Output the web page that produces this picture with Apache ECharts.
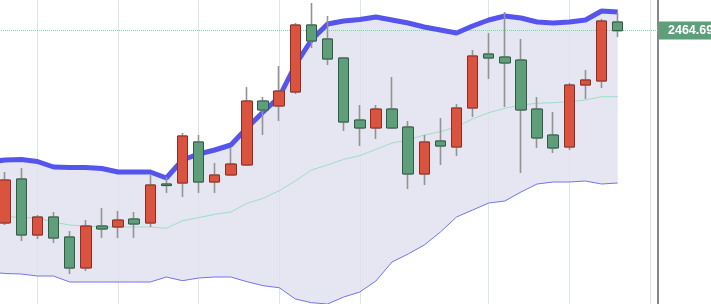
<!DOCTYPE html>
<html><head><meta charset="utf-8">
<script src="https://cdn.jsdelivr.net/npm/echarts@6/dist/echarts.min.js"></script>
<style>html,body{margin:0;padding:0;background:#fff;overflow:hidden}#c{width:711px;height:304px}</style>
</head><body><div id="c"></div>
<script>
// categories (trading sessions)
const categories = ['1','2','3','4','5','6','7','8','9','10','11','12','13','14','15','16','17','18','19','20','21',
  '22','23','24','25','26','27','28','29','30','31','32','33','34','35','36','37','38','39','40','41','42'];
// [open, close, low, high]
const candles = [
  [2392.5,2372.5,2367.5,2397.5],[2368.5,2390,2367.5,2394],[2390.5,2362.5,2359.5,2396],[2362.5,2371.5,2360.5,2372.5],
  [2371.5,2361,2358.5,2374],[2361.5,2346,2343,2364.5],[2346,2367,2344.5,2370],[2367,2365.5,2361,2376],
  [2366.5,2370,2361,2374.5],[2370.5,2368,2361,2374],[2368.5,2387.5,2366.5,2393],[2388,2387.25,2383.5,2391.5],
  [2388.5,2412,2381.5,2413.5],[2409,2389,2383.5,2412.5],[2389,2392.5,2383.5,2398.5],[2392.5,2398,2392.5,2406],
  [2397.5,2429.5,2397,2436.5],[2429.5,2425,2412.5,2431.5],[2427,2434.5,2419.5,2447],[2434,2467.5,2433,2468.5],
  [2467.5,2459.5,2456,2478.5],[2460.5,2450.5,2447.5,2472],[2451,2419,2414.5,2451],[2420,2416,2407,2427.5],
  [2416,2425.5,2410.5,2427.5],[2425.5,2416,2416,2441.5],[2416.5,2393,2385.5,2419.5],[2393,2409,2387.5,2412.5],
  [2409.5,2407,2397.5,2421],[2406.5,2426,2402,2428],[2426,2452,2421.5,2455],[2453,2451,2440.5,2463.5],
  [2451.5,2448.5,2426.5,2474],[2450,2425,2393.5,2460.5],[2425.5,2411,2406,2431.5],[2412.5,2406,2403.5,2424],
  [2406.5,2437.5,2405,2438.5],[2437.5,2440,2430.5,2445],[2439.5,2469.5,2436,2470.5],[2469,2464.69,2461.5,2473.5],
  '-','-'
];
const upperBand = [2399,2400,2400.25,2399.25,2396.5,2396.25,2396.2,2395.75,2394,2394,2394,2391,2400,2403,2405,2407.5,
  2416,2424,2431.5,2447.5,2460,2468,2469.5,2470.25,2471.5,2470,2468.5,2466.5,2465,2463.5,2467,2470,2472,2471,2469,
  2468.5,2469,2470,2474.5,2474,'-','-'];
const middleBand = [2372.5,2371.75,2371.25,2371,2369,2367.5,2367,2366.5,2366.5,2366.5,2366.5,2365.85,2369.65,2371.15,
  2372.85,2374,2378.35,2380.85,2384.65,2389.5,2395,2397.5,2400.35,2402.15,2405.35,2408.5,2410,2412.5,2414.15,2416.65,
  2420.5,2423.65,2425.85,2427.5,2428.35,2428.65,2429.15,2430,2431.65,2431.65,'-','-'];
const lowerBand = [2344,2343.25,2343,2342,2342,2339,2339,2339,2339,2339,2339,2341.5,2339.65,2341,2341.5,2341.5,2339.15,
  2337.15,2336.15,2330.5,2328.65,2328,2331.5,2334,2339.5,2349,2353,2357.5,2364,2371.5,2375,2378.5,2379.5,2384,2388,
  2389,2389,2389.5,2388,2388.5,'-','-'];
const gridLineCats = ['4','9','14','19','24','32','37','42'];
const lastPrice = 2464.69;
const lastPriceLabel = '2464.690';

const bandWidth = upperBand.map((u, i) => (u === '-' || lowerBand[i] === '-') ? '-' : +(u - lowerBand[i]).toFixed(3));
const bodies = candles.map(c => c === '-' ? '-' : [c[0], c[1], Math.min(c[0], c[1]), Math.max(c[0], c[1])]);

const chart = echarts.init(document.getElementById('c'), null, {renderer: 'canvas'});
chart.setOption({
  animation: false,
  backgroundColor: '#ffffff',
  grid: {left: -19, right: 53, top: 0, bottom: 0, outerBoundsMode: 'none'},
  xAxis: {type: 'category', data: categories, boundaryGap: true,
    axisLine: {show: false}, axisTick: {show: false}, axisLabel: {show: false}, splitLine: {show: false}},
  yAxis: {type: 'value', position: 'right', min: 2328, max: 2480,
    axisLine: {show: true, lineStyle: {color: '#5f5f5f', width: 1.5}},
    axisTick: {show: false}, axisLabel: {show: false}, splitLine: {show: false}},
  series: [
    {type: 'line', name: 'base', data: lowerBand, stack: 'bb', symbol: 'none', silent: true, z: 1,
      lineStyle: {opacity: 0}},
    {type: 'line', name: 'fill', data: bandWidth, stack: 'bb', symbol: 'none', silent: true, z: 1,
      lineStyle: {opacity: 0}, areaStyle: {color: '#e6e6f2', opacity: 1}},
    {type: 'line', name: 'vgrid', data: [], silent: true, z: 2,
      markLine: {silent: true, symbol: 'none', z: 2, animation: false,
        label: {show: false},
        lineStyle: {color: '#dde2ec', width: 1, type: 'solid'},
        data: gridLineCats.map(c => ({xAxis: c}))}},
    {type: 'line', name: 'lower', data: lowerBand, symbol: 'none', silent: true, z: 3,
      lineStyle: {color: '#7474e8', width: 1}},
    {type: 'line', name: 'middle', data: middleBand, symbol: 'none', silent: true, z: 3,
      lineStyle: {color: '#9edec6', width: 1}},
    {type: 'line', name: 'upper', data: upperBand, symbol: 'none', silent: true, z: 3,
      lineStyle: {color: '#5555ee', width: 5}},
    {type: 'line', name: 'last', data: [], silent: true, z: 3,
      markLine: {silent: true, symbol: 'none', z: 3, animation: false,
        lineStyle: {color: '#8ecca6', width: 1, type: 'dotted'},
        label: {show: true, position: 'end', distance: 1, formatter: lastPriceLabel,
          backgroundColor: '#5f9e7b', color: '#ffffff', fontSize: 12.5, fontWeight: 'bold',
          fontFamily: 'Liberation Sans, Arial, sans-serif', padding: [3, 6, 2, 9]},
        data: [{yAxis: lastPrice}]}},
    {type: 'candlestick', name: 'wicks', data: candles, barWidth: 8, silent: true, z: 4,
      itemStyle: {color: '#939393', color0: '#939393', borderColor: '#939393', borderColor0: '#939393', borderWidth: 1.6}},
    {type: 'candlestick', name: 'bodies', data: bodies, barWidth: 11, silent: true, z: 5,
      itemStyle: {color: '#d9533f', color0: '#5f9e7b', borderColor: '#8c2f22', borderColor0: '#2f5c44', borderWidth: 1}}
  ]
});
</script></body></html>
